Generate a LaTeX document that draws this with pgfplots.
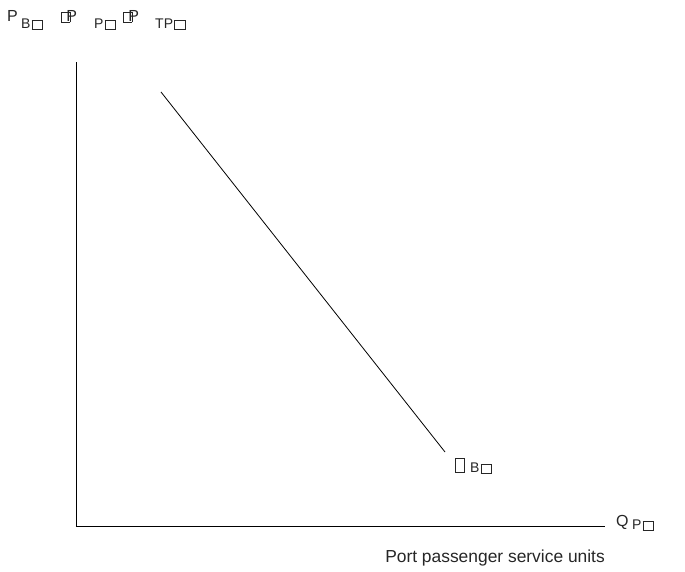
\documentclass[border=0pt]{standalone}
\usepackage{fontspec}
\setmainfont{Liberation Sans}
\usepackage{pgfplots}
\pgfplotsset{compat=1.18}
% empty boxes stand for the glyphs that the source font lacked
\newcommand\bx[2]{{\fboxsep=0pt\fboxrule=0.9pt\fbox{\rule{0pt}{#2}\rule{#1}{0pt}}}}
\newcommand\sbx{\kern1pt\bx{10pt}{8.2pt}}
\newcommand\sm{\fontsize{14}{15}\selectfont}
\begin{document}
\fontsize{16}{19}\selectfont
\begin{tikzpicture}[lab/.style={anchor=base west, inner sep=0pt, text=black!85}]
\begin{axis}[
  scale only axis, width=529pt, height=464pt,
  xmin=0, xmax=529, ymin=0, ymax=464,
  axis lines=left, axis line style={line width=0.8pt, -},
  xtick=\empty, ytick=\empty,
  clip=false,
]
\addplot[black, line width=0.8pt] coordinates {(85,434) (369,74)};
% vertical axis label
\node[lab] at (axis cs:-69,504) {P};
\node[lab] at (axis cs:-55,497) {\sm B\sbx};
\node[lab] at (axis cs:-15,504) {\bx{7.5pt}{9.5pt}\kern-4pt P};
\node[lab] at (axis cs:18,497) {\sm P\sbx};
\node[lab] at (axis cs:47,504) {\bx{7.5pt}{9.5pt}\kern-4pt P};
\node[lab] at (axis cs:79,497) {\sm TP\sbx};
% demand curve label
\node[lab] at (axis cs:379,54) {\bx{8.2pt}{12.6pt}};
\node[lab] at (axis cs:394,53) {\sm B\sbx};
% horizontal axis
\node[lab] at (axis cs:540,-1) {Q};
\node[lab] at (axis cs:556,-4) {\sm P\sbx};
\node[anchor=base east, inner sep=0pt, text=black!85] at (axis cs:529,-37)
  {\fontsize{17.4}{20}\selectfont Port passenger service units};
\end{axis}
\pgfresetboundingbox
\useasboundingbox (-76pt,-46pt) rectangle (609pt,526pt);
\end{tikzpicture}
\end{document}
